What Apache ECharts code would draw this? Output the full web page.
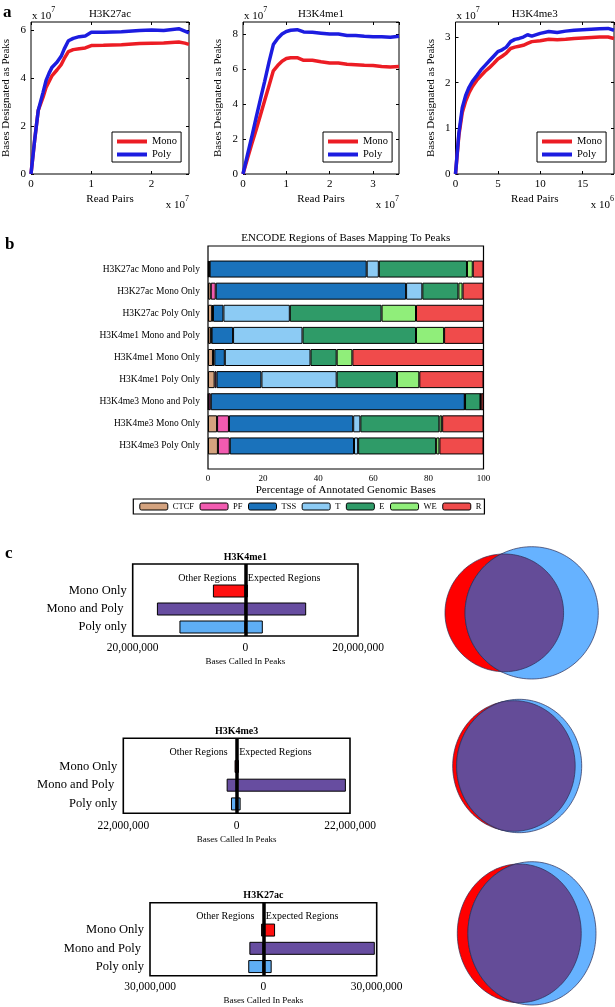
<!DOCTYPE html>
<html><head><meta charset="utf-8">
<script src="https://cdn.jsdelivr.net/npm/echarts@6/dist/echarts.min.js"></script>
<style>html,body{margin:0;padding:0;background:#fff}#c{width:615px;height:1007px}</style>
</head><body><div id="c"></div>
<script>
// ---------------- Panel a data (read pairs x10^7 / x10^6, bases x10^7) ----------------
const k27acReads = [0, 0.06, 0.12, 0.2, 0.25, 0.3, 0.35, 0.43, 0.5, 0.55, 0.62, 0.7, 0.8, 0.9, 1.0, 1.2, 1.5, 1.8, 2.0, 2.2, 2.45, 2.55, 2.62];
const k27acPoly  = [0, 1.4, 2.65, 3.4, 3.9, 4.2, 4.45, 4.65, 4.9, 5.2, 5.55, 5.65, 5.72, 5.75, 5.9, 5.9, 5.92, 5.98, 6.0, 5.98, 6.05, 5.95, 5.88];
const k27acMono  = [0, 1.4, 2.65, 3.2, 3.6, 3.85, 4.1, 4.33, 4.55, 4.8, 5.1, 5.18, 5.22, 5.25, 5.35, 5.36, 5.38, 5.43, 5.45, 5.46, 5.5, 5.45, 5.4];

const me1Reads = [0, 0.1, 0.2, 0.3, 0.4, 0.5, 0.6, 0.7, 0.8, 0.9, 1.0, 1.1, 1.25, 1.4, 1.6, 1.8, 2.0, 2.2, 2.4, 2.6, 2.8, 3.0, 3.2, 3.4, 3.6];
const me1Poly  = [0, 1.06, 2.1, 3.2, 4.25, 5.3, 6.4, 7.4, 7.75, 8.0, 8.15, 8.22, 8.25, 8.12, 8.1, 8.05, 8.0, 8.0, 7.92, 7.92, 7.88, 7.85, 7.85, 7.82, 7.88];
const me1Mono  = [0, 0.85, 1.7, 2.5, 3.35, 4.2, 5.05, 5.9, 6.2, 6.45, 6.6, 6.65, 6.65, 6.5, 6.5, 6.42, 6.35, 6.35, 6.28, 6.25, 6.22, 6.2, 6.15, 6.12, 6.15];

const me3Reads = [0, 0.4, 0.8, 1.2, 1.6, 2.0, 2.5, 3.0, 3.5, 4.0, 4.5, 5.0, 5.5, 6.0, 6.5, 7.0, 7.5, 8.0, 8.5, 9.0, 10, 11, 12, 13, 14, 15, 16, 17, 18, 18.7];
const me3Poly  = [0, 0.9, 1.45, 1.72, 1.9, 2.03, 2.15, 2.28, 2.38, 2.48, 2.58, 2.68, 2.72, 2.78, 2.9, 2.95, 2.97, 3.0, 3.05, 3.02, 3.08, 3.12, 3.1, 3.13, 3.15, 3.16, 3.17, 3.18, 3.19, 3.15];
const me3Mono  = [0, 0.85, 1.35, 1.6, 1.78, 1.92, 2.05, 2.15, 2.25, 2.33, 2.42, 2.52, 2.58, 2.65, 2.75, 2.78, 2.8, 2.82, 2.86, 2.9, 2.92, 2.95, 2.94, 2.95, 2.97, 2.98, 2.99, 3.0, 3.0, 2.97];

const aTitles = ['H3K27ac', 'H3K4me1', 'H3K4me3'];
const aXMax = [2.62, 3.6, 18.7];
const aYMax = [6.33, 8.69, 3.33];
const aXInterval = [1, 1, 5];
const aYInterval = [2, 2, 1];
const aXExponent = ['7', '7', '6'];
const aYExponent = ['7', '7', '7'];

// ---------------- Panel b data (% of annotated genomic bases) ----------------
const bCategories = ['H3K27ac Mono and Poly', 'H3K27ac Mono Only', 'H3K27ac Poly Only', 'H3K4me1 Mono and Poly', 'H3K4me1 Mono Only', 'H3K4me1 Poly Only', 'H3K4me3 Mono and Poly', 'H3K4me3 Mono Only', 'H3K4me3 Poly Only'];
const bRegions = ['CTCF', 'PF', 'TSS', 'T', 'E', 'WE', 'R'];
const CTCF = [0.3, 1.0, 1.5, 1.0, 1.8, 2.4, 0.2, 3.3, 3.6];
const PF   = [0.3, 1.8, 0.3, 0.3, 0.5, 0.7, 0.8, 4.3, 4.3];
const TSS  = [57.0, 69.1, 3.8, 7.8, 3.8, 16.3, 92.2, 45.1, 45.1];
const T    = [4.4, 5.9, 24.1, 25.2, 31.1, 27.3, 0.1, 2.6, 1.5];
const E    = [32.0, 13.1, 33.3, 41.2, 9.5, 21.9, 5.6, 28.7, 28.3];
const WE   = [2.1, 1.5, 12.5, 10.2, 5.7, 8.1, 0.1, 1.0, 1.2];
const R    = [3.9, 7.6, 24.5, 14.3, 47.6, 23.3, 1.0, 15.0, 16.0];

// ---------------- Panel c data (bases called in peaks) ----------------
const cTitles = ['H3K4me1', 'H3K4me3', 'H3K27ac'];
const cCategories = ['Mono Only', 'Mono and Poly ', 'Poly only'];
const me1Other    = [5760000, 15700000, 11700000];
const me1Expected = [460000, 10800000, 3100000];
const me3Other    = [400000, 1940000, 1100000];
const me3Expected = [450000, 21200000, 770000];
const k27Other    = [600000, 3700000, 4000000];
const k27Expected = [3100000, 29500000, 2200000];
const cRange = [20000000, 22000000, 30000000];

// ---------------- styling / layout ----------------
const F = "'Liberation Serif','Times New Roman',serif";
const RED = '#ec1c24', BLUE = '#1c1ce0';
const bColors = ['#d4a37f', '#f25bb0', '#1a72bb', '#8ccbf4', '#2f9b68', '#90ee7a', '#f04b4b'];
const cColors = ['#ff1010', '#674da0', '#5eaef5'];
const vennColors = {mono: '#ff0000', poly: '#66b2ff', both: '#644c98'};

const aBoxes = [{left: 31, width: 158}, {left: 243, width: 156}, {left: 455.5, width: 158.5}];
const aTop = 22, aHeight = 152;
const aLegendLeft = [112, 323, 537];
const bFrame = {left: 208, top: 246, width: 275.5, height: 223};
const bBars = {left: 208, top: 258, width: 275.5, height: 199};
const cBoxes = [
  {left: 132.7, top: 564, width: 225.3, height: 72, labelMargin: 6, nameGap: 21},
  {left: 123.3, top: 738.3, width: 226.7, height: 75, labelMargin: 6.5, nameGap: 22},
  {left: 150, top: 902.7, width: 226.7, height: 73, labelMargin: 5, nameGap: 20}
];
const vennBoxes = [
  {left: 445, top: 546.7, width: 153.3, height: 132.3},
  {left: 452.7, top: 699.3, width: 129, height: 133.4},
  {left: 457.3, top: 861.7, width: 138.7, height: 143.3}
];

const grids = [], xAxes = [], yAxes = [], series = [], legends = [], graphics = [];
const txt = (x, y, text, size, opts = {}) => ({
  type: 'text', x, y, silent: true,
  style: Object.assign({text, fontSize: size, fontFamily: F, fill: '#000', align: 'center', verticalAlign: 'middle'}, opts)
});
const expText = (x, y, e, align) => ({
  type: 'text', x, y, silent: true,
  style: {text: '{a|x 10}{b|' + e + '}', align, verticalAlign: 'middle', fill: '#000',
    rich: {a: {fontSize: 11, fontFamily: F, fill: '#000', lineHeight: 16, verticalAlign: 'bottom'},
           b: {fontSize: 8, fontFamily: F, fill: '#000', lineHeight: 16, verticalAlign: 'top'}}}
});
const inTick = () => ({show: true, inside: true, length: 3, lineStyle: {color: '#000', width: 1}});
const noLine = () => ({show: false, onZero: false});

// ---------------- Panel a ----------------
const aData = [
  {x: k27acReads, mono: k27acMono, poly: k27acPoly},
  {x: me1Reads, mono: me1Mono, poly: me1Poly},
  {x: me3Reads, mono: me3Mono, poly: me3Poly}
];
aData.forEach((d, i) => {
  const gi = grids.length;
  const box = aBoxes[i];
  grids.push({left: box.left, top: aTop, width: box.width, height: aHeight, show: true, borderColor: '#000', borderWidth: 1, backgroundColor: 'transparent', containLabel: false, outerBoundsMode: 'none'});
  const xi = xAxes.length;
  xAxes.push({gridIndex: gi, type: 'value', position: 'bottom', min: 0, max: aXMax[i], interval: aXInterval[i],
    axisLine: noLine(), axisTick: inTick(), splitLine: {show: false},
    axisLabel: {color: '#000', fontFamily: F, fontSize: 11, margin: 5, showMaxLabel: false},
    name: 'Read Pairs', nameLocation: 'middle', nameGap: 20, nameTextStyle: {color: '#000', fontFamily: F, fontSize: 11}});
  xAxes.push({gridIndex: gi, type: 'value', position: 'top', min: 0, max: aXMax[i], interval: aXInterval[i],
    axisLine: noLine(), axisTick: inTick(), splitLine: {show: false}, axisLabel: {show: false}});
  const yi = yAxes.length;
  yAxes.push({gridIndex: gi, type: 'value', position: 'left', min: 0, max: aYMax[i], interval: aYInterval[i],
    axisLine: noLine(), axisTick: inTick(), splitLine: {show: false},
    axisLabel: {color: '#000', fontFamily: F, fontSize: 11, margin: 5, showMaxLabel: false},
    name: 'Bases Designated as Peaks', nameLocation: 'middle', nameGap: 19, nameTextStyle: {color: '#000', fontFamily: F, fontSize: 11}});
  yAxes.push({gridIndex: gi, type: 'value', position: 'right', min: 0, max: aYMax[i], interval: aYInterval[i],
    axisLine: noLine(), axisTick: inTick(), splitLine: {show: false}, axisLabel: {show: false}});
  series.push({type: 'line', name: 'Mono', xAxisIndex: xi, yAxisIndex: yi, data: d.x.map((v, k) => [v, d.mono[k]]),
    showSymbol: false, symbol: 'none', lineStyle: {color: RED, width: 3.5}, itemStyle: {color: RED}, z: 3, silent: true});
  series.push({type: 'line', name: 'Poly', xAxisIndex: xi, yAxisIndex: yi, data: d.x.map((v, k) => [v, d.poly[k]]),
    showSymbol: false, symbol: 'none', lineStyle: {color: BLUE, width: 3.5}, itemStyle: {color: BLUE}, z: 4, silent: true});
  legends.push({data: ['Mono', 'Poly'], orient: 'vertical', left: aLegendLeft[i], top: 132, icon: 'rect',
    itemWidth: 30, itemHeight: 4, itemGap: 2, padding: [4, 4, 2, 5], borderColor: '#000', borderWidth: 1,
    backgroundColor: '#fff', selectedMode: false,
    textStyle: {color: '#000', fontFamily: F, fontSize: 10.5, lineHeight: 11}});
  const cx = box.left + box.width / 2;
  graphics.push(txt(cx, 14, aTitles[i], 11));
  graphics.push(expText(box.left + 1, 14, aYExponent[i], 'left'));
  graphics.push(expText(box.left + box.width, 203, aXExponent[i], 'right'));
});

// ---------------- Panel b ----------------
{
  const gf = grids.length;
  grids.push(Object.assign({show: true, borderColor: '#000', borderWidth: 1.2, backgroundColor: 'transparent', containLabel: false, outerBoundsMode: 'none'}, bFrame));
  xAxes.push({gridIndex: gf, type: 'value', min: 0, max: 100, interval: 20, axisLine: noLine(), axisTick: {show: false}, splitLine: {show: false},
    axisLabel: {color: '#000', fontFamily: F, fontSize: 9, margin: 5},
    name: 'Percentage of Annotated Genomic Bases', nameLocation: 'middle', nameGap: 16, nameTextStyle: {color: '#000', fontFamily: F, fontSize: 11}});
  yAxes.push({gridIndex: gf, type: 'value', min: 0, max: 1, show: false});
  const gb = grids.length;
  grids.push(Object.assign({containLabel: false, outerBoundsMode: 'none'}, bBars));
  const xi = xAxes.length;
  xAxes.push({gridIndex: gb, type: 'value', min: 0, max: 100, show: false});
  const yi = yAxes.length;
  yAxes.push({gridIndex: gb, type: 'category', inverse: true, data: bCategories,
    axisLine: noLine(), axisTick: {show: false},
    axisLabel: {color: '#000', fontFamily: F, fontSize: 9.5, margin: 8}});
  const bValues = [CTCF, PF, TSS, T, E, WE, R];
  bRegions.forEach((name, k) => {
    series.push({type: 'bar', name, stack: 'regions', xAxisIndex: xi, yAxisIndex: yi, data: bValues[k], barWidth: 17,
      itemStyle: {color: bColors[k], borderColor: '#000', borderWidth: 1}, silent: true});
  });
  legends.push({data: bRegions, left: 133.3, top: 499, orient: 'horizontal', itemWidth: 28, itemHeight: 7, itemGap: 5.5,
    padding: [3, 3, 3, 6], borderColor: '#000', borderWidth: 1.2, selectedMode: false,
    itemStyle: {borderColor: '#000', borderWidth: 1},
    textStyle: {color: '#000', fontFamily: F, fontSize: 8.5}});
  graphics.push(txt(bFrame.left + bFrame.width / 2, 238.5, 'ENCODE Regions of Bases Mapping To Peaks', 11));
}

// ---------------- Panel c ----------------
const cSets = [
  {other: me1Other, expected: me1Expected},
  {other: me3Other, expected: me3Expected},
  {other: k27Other, expected: k27Expected}
];
const fmtAbs = v => Math.abs(v).toLocaleString('en-US');
cSets.forEach((s, i) => {
  const b = cBoxes[i];
  const gi = grids.length;
  grids.push({left: b.left, top: b.top, width: b.width, height: b.height, show: true, borderColor: '#000', borderWidth: 1.6, backgroundColor: 'transparent', containLabel: false, outerBoundsMode: 'none'});
  const xi = xAxes.length;
  xAxes.push({gridIndex: gi, type: 'value', min: -cRange[i], max: cRange[i], interval: cRange[i],
    axisLine: noLine(), axisTick: {show: false}, splitLine: {show: false},
    axisLabel: {color: '#000', fontFamily: F, fontSize: 11.5, margin: b.labelMargin, formatter: fmtAbs},
    name: 'Bases Called In Peaks', nameLocation: 'middle', nameGap: b.nameGap, nameTextStyle: {color: '#000', fontFamily: F, fontSize: 9}});
  const yi = yAxes.length;
  yAxes.push({gridIndex: gi, type: 'category', inverse: true, data: [''].concat(cCategories),
    axisLine: noLine(), axisTick: {show: false},
    axisLabel: {color: '#000', fontFamily: F, fontSize: 12.5, margin: 6}});
  const mk = (arr, sign) => ['-'].concat(arr.map((v, k) => ({value: sign * v, itemStyle: {color: cColors[k]}})));
  series.push({type: 'bar', xAxisIndex: xi, yAxisIndex: yi, data: mk(s.other, -1), barWidth: 13,
    itemStyle: {borderColor: '#000', borderWidth: 1}, z: 2, silent: true});
  series.push({type: 'bar', xAxisIndex: xi, yAxisIndex: yi, data: mk(s.expected, 1), barWidth: 13, barGap: '-100%',
    itemStyle: {borderColor: '#000', borderWidth: 1}, z: 3, silent: true,
    markLine: {silent: true, symbol: ['none', 'none'], label: {show: false}, z: 10,
      lineStyle: {color: '#000', width: 3.5, type: 'solid'}, data: [{xAxis: 0}]}});
  const zx = b.left + b.width / 2;
  graphics.push(txt(zx, b.top - 7, cTitles[i], 10, {fontWeight: 'bold'}));
  graphics.push(txt(zx - 9, b.top + 14, 'Other Regions', 10, {align: 'right'}));
  graphics.push(txt(zx + 2.5, b.top + 14, 'Expected Regions', 10, {align: 'left'}));
});

// ---------------- Venn diagrams (area-proportional, from panel c totals) ----------------
function lensArea(r1, r2, d) {
  if (d >= r1 + r2) return 0;
  if (d <= Math.abs(r1 - r2)) return Math.PI * Math.min(r1, r2) ** 2;
  const a = r1 * r1 * Math.acos((d * d + r1 * r1 - r2 * r2) / (2 * d * r1));
  const b = r2 * r2 * Math.acos((d * d + r2 * r2 - r1 * r1) / (2 * d * r2));
  const c = 0.5 * Math.sqrt((-d + r1 + r2) * (d + r1 - r2) * (d - r1 + r2) * (d + r1 + r2));
  return a + b - c;
}
function solveD(r1, r2, target) {
  let lo = Math.abs(r1 - r2), hi = r1 + r2;
  for (let k = 0; k < 80; k++) {
    const mid = (lo + hi) / 2;
    if (lensArea(r1, r2, mid) > target) lo = mid; else hi = mid;
  }
  return (lo + hi) / 2;
}
cSets.forEach((s, i) => {
  const tot = k => (s.other[k] + s.expected[k]) / 1e6;
  const both = tot(1), mono = tot(0) + both, poly = tot(2) + both;
  const r1 = Math.sqrt(mono / Math.PI), r2 = Math.sqrt(poly / Math.PI);
  const d = solveD(r1, r2, both);
  const Rm = Math.max(r1, r2);
  const vb = vennBoxes[i];
  const gi = grids.length;
  grids.push({left: vb.left, top: vb.top, width: vb.width, height: vb.height, containLabel: false, outerBoundsMode: 'none'});
  const xi = xAxes.length;
  xAxes.push({gridIndex: gi, type: 'value', min: Math.min(-r1, d - r2), max: Math.max(r1, d + r2), show: false});
  const yi = yAxes.length;
  yAxes.push({gridIndex: gi, type: 'value', min: -Rm, max: Rm, show: false});
  series.push({type: 'custom', xAxisIndex: xi, yAxisIndex: yi, data: [[0, 0]], clip: false, silent: true,
    renderItem: (params, api) => {
      const arc = (cx, r, a0, a1, n) => {
        const pts = [];
        for (let k = 0; k <= n; k++) {
          const t = a0 + (a1 - a0) * k / n;
          pts.push(api.coord([cx + r * Math.cos(t), r * Math.sin(t)]));
        }
        return pts;
      };
      const monoPts = arc(0, r1, 0, 2 * Math.PI, 160);
      const polyPts = arc(d, r2, 0, 2 * Math.PI, 160);
      let lensPts;
      if (d <= Math.abs(r1 - r2)) {
        lensPts = r1 < r2 ? monoPts : polyPts;
      } else {
        const xI = (d * d + r1 * r1 - r2 * r2) / (2 * d);
        const yI = Math.sqrt(Math.max(0, r1 * r1 - xI * xI));
        const tA = Math.atan2(yI, xI);
        const tB = Math.atan2(yI, xI - d);
        lensPts = arc(0, r1, -tA, tA, 80).concat(arc(d, r2, tB, 2 * Math.PI - tB, 80));
      }
      const stroke = {stroke: '#2d2d55', lineWidth: 0.7};
      return {type: 'group', children: [
        {type: 'polygon', shape: {points: monoPts}, style: Object.assign({fill: vennColors.mono}, stroke)},
        {type: 'polygon', shape: {points: polyPts}, style: Object.assign({fill: vennColors.poly}, stroke)},
        {type: 'polygon', shape: {points: lensPts}, style: Object.assign({fill: vennColors.both}, stroke)}
      ]};
    }});
});

// ---------------- panel letters ----------------
graphics.push(txt(3, 13, 'a', 17, {fontWeight: 'bold', align: 'left'}));
graphics.push(txt(5, 245, 'b', 17, {fontWeight: 'bold', align: 'left'}));
graphics.push(txt(5, 554, 'c', 17, {fontWeight: 'bold', align: 'left'}));

const chart = echarts.init(document.getElementById('c'), null, {renderer: 'canvas', width: 615, height: 1007});
chart.setOption({
  animation: false,
  backgroundColor: '#fff',
  textStyle: {fontFamily: F},
  tooltip: {show: false},
  grid: grids, xAxis: xAxes, yAxis: yAxes, series, legend: legends, graphic: graphics
});
</script>
</body></html>
